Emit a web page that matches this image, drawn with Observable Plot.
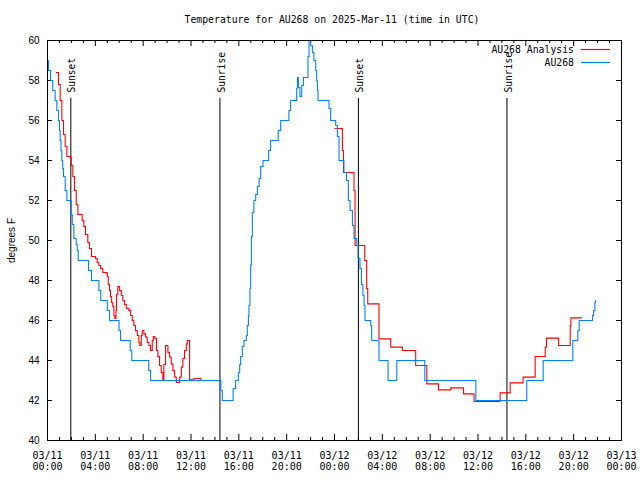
<!DOCTYPE html>
<html><head><meta charset="utf-8">
<script src="https://cdn.jsdelivr.net/npm/d3@7"></script>
<script src="https://cdn.jsdelivr.net/npm/@observablehq/plot@0.6"></script>
<style>body{margin:0;background:#fff} svg{display:block;background:#fff}</style>
</head><body><div id="chart"></div>
<script>
const titleText = "Temperature for AU268 on 2025-Mar-11 (time in UTC)";
const yLabel = "degrees F";
const seriesNames = ["AU268 Analysis", "AU268"];
const seriesColors = ["#ff0000", "#0080ff"];
const startMs = Date.UTC(2025, 2, 11);

// Observed (blue), hours since 03/11 00:00 UTC
const obsHours = [0.00,0.08,0.25,0.44,0.64,0.78,0.92,1.00,1.06,1.13,1.20,1.27,1.34,1.48,1.62,1.98,2.07,2.20,2.40,2.49,2.57,3.43,3.68,4.30,4.45,5.00,5.19,5.98,6.11,6.92,7.05,8.47,8.62,14.50,14.62,15.52,15.73,15.96,16.07,16.15,16.29,16.43,16.63,16.71,16.80,16.85,16.93,16.99,17.05,17.13,17.26,17.41,17.55,17.69,17.83,18.02,18.49,18.66,19.29,19.50,20.19,20.33,20.84,20.90,20.98,21.11,21.26,21.40,21.78,21.87,22.01,22.15,22.28,22.43,22.51,22.57,22.62,23.54,23.68,24.10,24.24,24.38,24.79,25.00,25.16,25.30,25.50,25.63,25.86,25.97,26.13,26.25,26.38,26.47,26.55,27.03,27.11,27.72,28.48,29.21,31.55,35.82,40.08,41.45,43.93,44.35,44.46,45.58,45.67,45.77,45.83];
const obsTemps = [59.0,58.5,58.0,57.5,57.0,56.5,56.0,55.5,55.0,54.5,54.0,53.6,53.2,52.5,52.0,51.3,50.8,50.1,49.8,49.5,49.0,48.5,48.0,47.5,47.0,46.5,46.0,45.5,45.0,44.5,44.0,43.5,43.0,42.5,42.0,42.6,43.0,43.4,43.8,44.2,44.7,45.0,45.25,45.75,46.25,46.75,47.6,48.8,50.2,51.4,52.0,52.3,52.7,53.1,53.7,54.0,54.5,55.0,55.5,56.0,56.5,57.0,57.6,58.15,57.65,57.2,57.75,58.15,59.2,60.0,59.75,59.4,59.0,58.5,58.0,57.5,57.0,56.6,56.0,55.75,55.2,54.0,53.4,53.0,52.0,51.5,50.75,50.1,49.75,49.1,48.6,47.8,47.25,46.75,46.0,45.75,45.0,44.0,43.0,44.0,43.0,42.0,43.0,44.0,45.0,45.5,46.0,46.25,46.5,46.9,47.0];

// Analysis (red); null marks the gap in the series
const anaHours = [0.73,0.92,1.06,1.20,1.34,1.48,1.62,1.98,2.12,2.26,2.40,2.54,2.90,3.04,3.18,3.37,3.51,3.68,4.02,4.16,4.29,4.44,4.63,5.00,5.08,5.19,5.27,5.36,5.46,5.55,5.63,5.73,5.77,5.88,6.03,6.17,6.30,6.44,6.59,6.80,6.95,7.09,7.22,7.36,7.51,7.64,7.72,7.84,7.92,8.06,8.20,8.34,8.48,8.62,8.76,8.85,8.98,9.12,9.23,9.37,9.51,9.65,9.73,9.87,10.07,10.21,10.35,10.49,10.63,10.77,11.05,11.19,11.32,11.46,11.61,11.69,11.88,12.24,12.83,12.84,24.04,24.66,24.75,25.63,25.72,26.53,26.69,26.78,27.72,28.70,29.68,30.79,31.72,32.69,33.72,34.79,35.67,37.85,38.69,39.77,40.78,41.62,41.73,42.74,43.71,43.77,44.66];
const anaTemps = [58.4,57.8,57.0,56.0,55.3,54.7,54.2,53.75,53.2,52.5,51.8,51.3,51.0,50.7,50.3,49.9,49.6,49.2,49.1,48.9,48.75,48.6,48.4,48.2,47.8,47.5,47.2,46.9,46.7,46.25,46.1,46.5,47.3,47.7,47.5,47.25,47.0,46.8,46.6,46.5,46.25,46.0,45.75,45.5,45.25,44.9,44.75,45.25,45.5,45.33,45.17,44.9,44.75,44.5,45.0,45.2,45.1,44.5,44.2,43.75,43.4,43.0,43.8,44.75,44.4,44.17,43.83,43.5,43.17,42.9,43.17,43.67,44.1,44.5,44.83,45.0,43.03,43.1,43.05,null,55.6,54.5,53.4,52.5,49.75,49.0,47.6,46.83,45.08,44.67,44.5,43.75,42.83,42.53,42.63,42.33,41.95,42.38,42.88,43.17,44.2,44.67,45.12,44.75,45.75,46.13,46.13];

const eventNames = ["Sunset", "Sunrise", "Sunset", "Sunrise"];
const eventHours = [1.95, 14.42, 26.0, 38.42];
const yTicks = [40, 42, 44, 46, 48, 50, 52, 54, 56, 58, 60];
const xDomainHours = [0, 48];
const majorStepHours = 4;

const toDate = h => new Date(startMs + h * 3600e3);
const obs = obsHours.map((h, i) => ({t: toDate(h), v: obsTemps[i]}));
const ana = anaHours.map((h, i) => ({t: toDate(h), v: anaTemps[i] == null ? NaN : anaTemps[i]}));
const events = eventHours.map((h, i) => ({t: toDate(h), name: eventNames[i]}));
const majors = d3.range(xDomainHours[0], xDomainHours[1] + 1, majorStepHours).map(toDate);
const minors = d3.range(xDomainHours[0], xDomainHours[1] + 1, 1).filter(h => h % majorStepHours).map(toDate);

const W = 640, H = 480, mT = 40, mR = 19, mB = 40, mL = 47;
const pw = W - mL - mR, ph = H - mT - mB;
const mono = "DejaVu Sans Mono";
const sans = "Liberation Sans";
const fmt = d3.utcFormat("%m/%d\n%H:%M");

const chart = Plot.plot({
  width: W, height: H,
  marginTop: mT, marginRight: mR, marginBottom: mB, marginLeft: mL,
  style: {background: "#fff", color: "black"},
  x: {type: "utc", domain: xDomainHours.map(toDate)},
  y: {domain: [40, 60]},
  marks: [
    Plot.ruleX(majors, {x: d => d, insetTop: ph - 6, stroke: "black"}),
    Plot.ruleX(majors, {x: d => d, insetBottom: ph - 6, stroke: "black"}),
    Plot.ruleX(minors, {x: d => d, insetTop: ph - 3, stroke: "black"}),
    Plot.ruleX(minors, {x: d => d, insetBottom: ph - 3, stroke: "black"}),
    Plot.ruleY(yTicks, {y: d => d, insetRight: pw - 5, stroke: "black"}),
    Plot.ruleY(yTicks, {y: d => d, insetLeft: pw - 5, stroke: "black"}),
    Plot.ruleX(events, {x: "t", y1: 40, y2: 57.1, stroke: "black", strokeWidth: 1}),
    Plot.text(events, {x: "t", y: 57.4, text: "name", rotate: -90, textAnchor: "start", dx: 1.5, fontFamily: mono, fontSize: 9.6, fill: "black"}),
    Plot.line(ana, {x: "t", y: "v", stroke: seriesColors[0], strokeWidth: 1.1, curve: "step-after"}),
    Plot.line(obs, {x: "t", y: "v", stroke: seriesColors[1], strokeWidth: 1.1, curve: "step-after"}),
    Plot.frame({stroke: "black"}),
    Plot.axisX({ticks: majors, tickSize: 0, tickPadding: 10, tickFormat: fmt, fontFamily: mono, fontSize: 10, lineHeight: 1.15, label: null}),
    Plot.axisY({ticks: yTicks, tickSize: 0, tickPadding: 8, fontFamily: sans, fontSize: 10, label: yLabel, labelAnchor: "center", labelArrow: "none", labelOffset: 40})
  ]
});

const svg = d3.select(chart);
svg.append("text").attr("x", 332).attr("y", 20).attr("text-anchor", "middle").attr("dominant-baseline", "middle")
  .attr("font-family", mono).attr("font-size", 9.8).attr("fill", "black").text(titleText);
const leg = svg.append("g");
seriesNames.forEach((name, i) => {
  const y = 50 + i * 13;
  leg.append("text").attr("x", 574).attr("y", y).attr("text-anchor", "end").attr("dominant-baseline", "middle")
    .attr("font-family", mono).attr("font-size", 9.8).attr("fill", "black").text(name);
  leg.append("line").attr("x1", 581).attr("x2", 610).attr("y1", y - 0.5).attr("y2", y - 0.5)
    .attr("stroke", seriesColors[i]).attr("stroke-width", 1.2);
});
document.getElementById("chart").appendChild(chart);
</script>
</body></html>
